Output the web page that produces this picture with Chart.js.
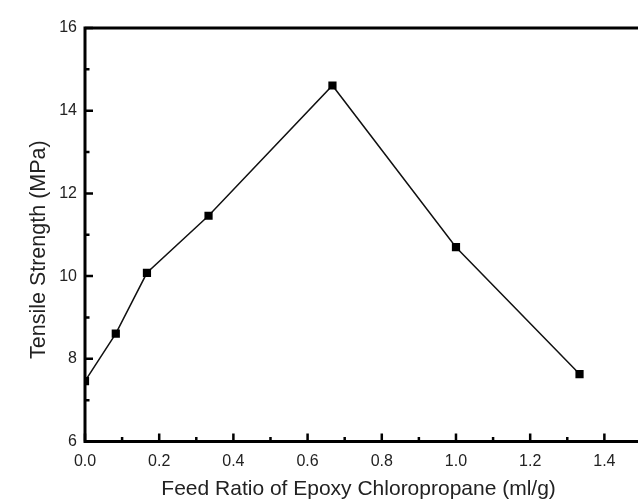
<!DOCTYPE html>
<html lang="en">
<head>
    <meta charset="utf-8">
    <title>Tensile Strength</title>
    <script src="https://cdn.jsdelivr.net/npm/chart.js@4.4.1/dist/chart.umd.min.js"></script>
    <style>
        html, body { margin: 0; padding: 0; background: #fff; overflow: hidden; }
        #wrap { width: 638px; height: 501px; }
    </style>
</head>
<body>
<div id="wrap"><canvas id="chart" width="638" height="501"></canvas></div>
<script>
// data
var feedRatio = [0, 0.083, 0.167, 0.333, 0.667, 1.0, 1.333];
var strength = [7.46, 8.61, 10.08, 11.46, 14.61, 10.70, 7.63];

var xMajor = [0, 0.2, 0.4, 0.6, 0.8, 1.0, 1.2, 1.4];
var xMinor = [0.1, 0.3, 0.5, 0.7, 0.9, 1.1, 1.3];
var yMajor = [6, 8, 10, 12, 14, 16];
var yMinor = [7, 9, 11, 13, 15];

// axis box + inward ticks, origin style
var axisBox = {
    id: 'axisBox',
    afterDraw: function(chart) {
        var ctx = chart.ctx, a = chart.chartArea;
        var xs = chart.scales.x, ys = chart.scales.y;
        ctx.save();
        ctx.strokeStyle = '#000';
        ctx.lineWidth = 3;
        ctx.beginPath();
        ctx.moveTo(a.right + 10, a.top);
        ctx.lineTo(a.left, a.top);
        ctx.lineTo(a.left, a.bottom);
        ctx.lineTo(a.right + 10, a.bottom);
        ctx.stroke();
        ctx.lineWidth = 2.5;
        ctx.beginPath();
        xMajor.forEach(function(v) {
            var px = xs.getPixelForValue(v);
            ctx.moveTo(px, a.bottom); ctx.lineTo(px, a.bottom - 8);
        });
        xMinor.forEach(function(v) {
            var px = xs.getPixelForValue(v);
            ctx.moveTo(px, a.bottom); ctx.lineTo(px, a.bottom - 4.5);
        });
        yMajor.forEach(function(v) {
            var py = ys.getPixelForValue(v);
            ctx.moveTo(a.left, py); ctx.lineTo(a.left + 8, py);
        });
        yMinor.forEach(function(v) {
            var py = ys.getPixelForValue(v);
            ctx.moveTo(a.left, py); ctx.lineTo(a.left + 4.5, py);
        });
        ctx.stroke();
        ctx.restore();
    }
};

var chart = new Chart(document.getElementById('chart'), {
    type: 'line',
    data: {
        datasets: [{
            data: feedRatio.map(function(x, i) { return { x: x, y: strength[i] }; }),
            borderColor: '#111',
            borderWidth: 1.5,
            backgroundColor: '#000',
            pointStyle: 'rect',
            pointRadius: 5.8,
            pointBorderWidth: 0,
            tension: 0
        }]
    },
    options: {
        responsive: false,
        animation: false,
        layout: { padding: { top: 28, right: 0, left: 0, bottom: 0 } },
        plugins: { legend: { display: false }, tooltip: { enabled: false } },
        scales: {
            x: {
                type: 'linear',
                min: 0,
                max: 1.475,
                afterBuildTicks: function(s) { s.ticks = xMajor.map(function(v) { return { value: v }; }); },
                afterFit: function(s) { s.height = 59.5; },
                grid: { display: false, drawTicks: false },
                border: { display: false },
                ticks: {
                    padding: 10,
                    color: '#222',
                    font: { family: 'Liberation Sans', size: 16 },
                    maxRotation: 0,
                    callback: function(v) { return v.toFixed(1); }
                },
                title: {
                    display: true,
                    text: 'Feed Ratio of Epoxy Chloropropane (ml/g)',
                    color: '#222',
                    font: { family: 'Liberation Sans', size: 21 },
                    padding: { top: 4, bottom: -1 }
                }
            },
            y: {
                min: 6,
                max: 16,
                afterBuildTicks: function(s) { s.ticks = yMajor.map(function(v) { return { value: v }; }); },
                afterFit: function(s) { s.width = 85; },
                grid: { display: false, drawTicks: false },
                border: { display: false },
                ticks: {
                    padding: 8,
                    color: '#222',
                    font: { family: 'Liberation Sans', size: 16 }
                },
                title: {
                    display: true,
                    // trailing spaces nudge the label down to where the original sits
                    text: 'Tensile Strength (MPa)     ',
                    color: '#222',
                    font: { family: 'Liberation Sans', size: 21.5 },
                    padding: { top: 26, bottom: 4 }
                }
            }
        }
    },
    plugins: [axisBox]
});
</script>
</body>
</html>
